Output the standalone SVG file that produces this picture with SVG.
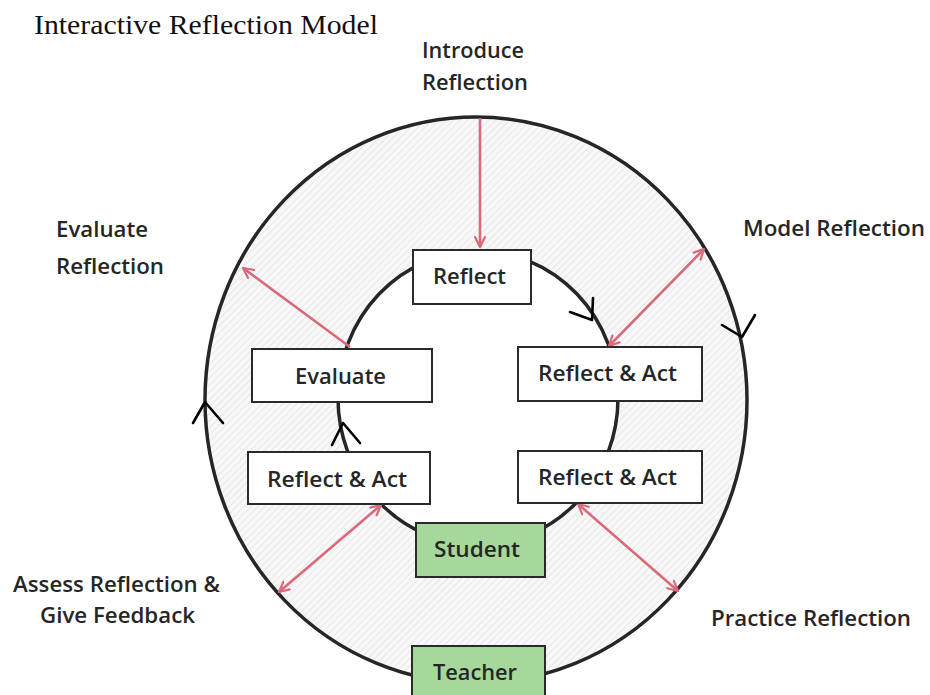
<svg xmlns="http://www.w3.org/2000/svg" width="930" height="695" viewBox="0 0 930 695">
<defs>
<pattern id="hatch" width="5" height="5" patternUnits="userSpaceOnUse" patternTransform="rotate(45)">
<rect width="5" height="5" fill="#f8f8f8"/>
<line x1="0" y1="0" x2="0" y2="5" stroke="#dcdcdc" stroke-width="1.2"/>
</pattern>
<marker id="ah" viewBox="0 0 12 12" refX="11" refY="6" markerWidth="12" markerHeight="12" markerUnits="userSpaceOnUse" orient="auto-start-reverse">
<path d="M1,1 L11,6 L1,11" fill="none" stroke="#d86a7a" stroke-width="2.2" stroke-linecap="round" stroke-linejoin="round"/>
</marker>
<style>
.lbl{font-family:"Open Sans","Liberation Sans",sans-serif;font-size:22px;font-weight:600;fill:#262626;}
.box{fill:#ffffff;stroke:#2a2a2a;stroke-width:2;}
.gbox{fill:#a6d79b;stroke:#2a2a2a;stroke-width:2;}
.ring{fill:none;stroke:#262626;stroke-width:3.5;}
.pink{fill:none;stroke:#d86a7a;stroke-width:2.6;}
.flow{fill:none;stroke:#000;stroke-width:2.6;stroke-linecap:round;stroke-linejoin:round;}
</style>
</defs>
<rect width="930" height="695" fill="#ffffff"/>
<text x="34" y="34" font-family="'Liberation Serif',serif" font-size="27" fill="#111" textLength="344" lengthAdjust="spacingAndGlyphs">Interactive Reflection Model</text>

<g id="ring">
<path d="M205,400 A271,283 0 1,0 747,400 A271,283 0 1,0 205,400 Z M338,398 A140,147 0 1,1 618,398 A140,147 0 1,1 338,398 Z" fill="url(#hatch)" fill-rule="evenodd"/>
<ellipse class="ring" cx="476" cy="400" rx="271" ry="283"/>
<ellipse class="ring" cx="478" cy="398" rx="140" ry="147"/>
</g>

<g id="connectors">
<line class="pink" x1="480" y1="118" x2="480" y2="247" marker-end="url(#ah)"/>
<line class="pink" x1="609" y1="346" x2="704" y2="249" marker-start="url(#ah)" marker-end="url(#ah)"/>
<line class="pink" x1="350" y1="347" x2="243" y2="268" marker-end="url(#ah)"/>
<line class="pink" x1="381" y1="505" x2="279" y2="592" marker-start="url(#ah)" marker-end="url(#ah)"/>
<line class="pink" x1="578" y1="504" x2="678" y2="591" marker-start="url(#ah)" marker-end="url(#ah)"/>
<path class="flow" d="M570,312 L592,320 L593,298"/>
<path class="flow" d="M722,325 L742,337 L755,315"/>
<path class="flow" d="M193,423 L205,402 L223,423"/>
<path class="flow" d="M332,445 L343,423 L360,443"/>
</g>

<g id="node-reflect">
<rect class="box" x="413" y="250" width="118" height="54"/>
<text class="lbl" x="433" y="284" textLength="73" lengthAdjust="spacingAndGlyphs">Reflect</text>
</g>
<g id="node-reflect-act-1">
<rect class="box" x="518" y="347" width="184" height="54"/>
<text class="lbl" x="538" y="381" textLength="139" lengthAdjust="spacingAndGlyphs">Reflect &amp; Act</text>
</g>
<g id="node-reflect-act-2">
<rect class="box" x="518" y="451" width="184" height="52"/>
<text class="lbl" x="538" y="485" textLength="139" lengthAdjust="spacingAndGlyphs">Reflect &amp; Act</text>
</g>
<g id="node-evaluate">
<rect class="box" x="252" y="349" width="180" height="53"/>
<text class="lbl" x="295" y="384" textLength="91" lengthAdjust="spacingAndGlyphs">Evaluate</text>
</g>
<g id="node-reflect-act-3">
<rect class="box" x="248" y="452" width="182" height="52"/>
<text class="lbl" x="267" y="487" textLength="140" lengthAdjust="spacingAndGlyphs">Reflect &amp; Act</text>
</g>
<g id="node-student">
<rect class="gbox" x="416" y="523" width="129" height="54"/>
<text class="lbl" x="434" y="557" textLength="86" lengthAdjust="spacingAndGlyphs">Student</text>
</g>
<g id="node-teacher">
<rect class="gbox" x="412" y="646" width="133" height="52"/>
<text class="lbl" x="433" y="680" textLength="84" lengthAdjust="spacingAndGlyphs">Teacher</text>
</g>

<g id="labels">
<text class="lbl" x="422" y="58" textLength="102" lengthAdjust="spacingAndGlyphs">Introduce</text>
<text class="lbl" x="422" y="90" textLength="106" lengthAdjust="spacingAndGlyphs">Reflection</text>
<text class="lbl" x="743" y="236" textLength="182" lengthAdjust="spacingAndGlyphs">Model Reflection</text>
<text class="lbl" x="56" y="237" textLength="92" lengthAdjust="spacingAndGlyphs">Evaluate</text>
<text class="lbl" x="56" y="274" textLength="108" lengthAdjust="spacingAndGlyphs">Reflection</text>
<text class="lbl" x="13" y="592" textLength="207" lengthAdjust="spacingAndGlyphs">Assess Reflection &amp;</text>
<text class="lbl" x="40" y="623" textLength="155" lengthAdjust="spacingAndGlyphs">Give Feedback</text>
<text class="lbl" x="711" y="626" textLength="200" lengthAdjust="spacingAndGlyphs">Practice Reflection</text>
</g>
</svg>
